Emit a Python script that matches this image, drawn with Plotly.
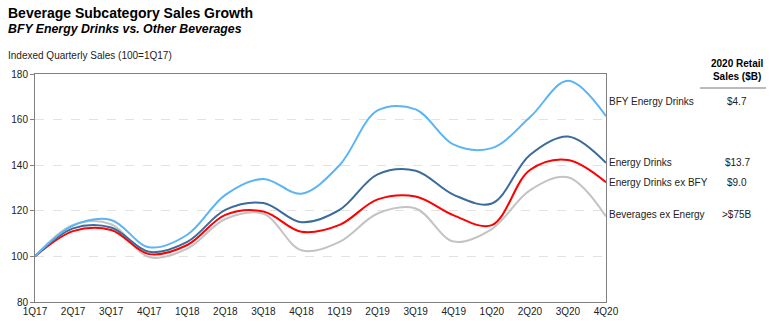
import plotly.graph_objects as go

quarters = ["1Q17", "2Q17", "3Q17", "4Q17", "1Q18", "2Q18", "3Q18", "4Q18",
            "1Q19", "2Q19", "3Q19", "4Q19", "1Q20", "2Q20", "3Q20", "4Q20"]

bfy_energy = [100, 113.5, 116, 104, 109.5, 127, 134, 127.5, 140, 164, 164.5, 149, 147.5, 161, 177, 161.5]
energy = [100, 112.3, 112.7, 102, 106.4, 120.4, 123.4, 115, 120.4, 136, 137.6, 127, 123.2, 144.5, 152.6, 141]
energy_ex_bfy = [100, 111.1, 111.6, 101, 105, 118.2, 119.7, 110.8, 113.8, 125, 126.3, 118, 113.7, 137.9, 142.3, 132.5]
bev_ex_energy = [100, 113.8, 114.1, 99.7, 103.4, 116.4, 118.7, 102.7, 106.4, 118.8, 121, 106.5, 112, 129, 134.7, 117.5]

series_names = ["BFY Energy Drinks", "Energy Drinks", "Energy Drinks ex BFY", "Beverages ex Energy"]
retail_sales = ["$4.7", "$13.7", "$9.0", ">$75B"]
colors = ["#5AB4F5", "#3A6B9B", "#FF0000", "#C3C3C3"]
label_y = [168, 141.4, 132.6, 118.5]

series = [bfy_energy, energy, energy_ex_bfy, bev_ex_energy]

W, H = 769, 328
L, R, T, B = 35, 163, 74, 26
pw, ph = W - L - R, H - T - B

def px(x):
    return (x - L) / pw

def py(y):
    return (H - B - y) / ph

fig = go.Figure()
for name, vals, col in reversed(list(zip(series_names, series, colors))):
    fig.add_trace(go.Scatter(x=quarters, y=vals, mode="lines", name=name,
                             line=dict(color=col, width=2, shape="spline", smoothing=1),
                             hoverinfo="skip"))

font = "Arial, Liberation Sans, sans-serif"
ann = []
ann.append(dict(text="<b>Beverage Subcategory Sales Growth</b>", x=px(6), y=py(13),
                xref="paper", yref="paper", xanchor="left", yanchor="middle",
                showarrow=False, font=dict(size=14, color="#000", family=font)))
ann.append(dict(text="<b><i>BFY Energy Drinks vs. Other Beverages</i></b>", x=px(6), y=py(29),
                xref="paper", yref="paper", xanchor="left", yanchor="middle",
                showarrow=False, font=dict(size=12.3, color="#000", family=font)))
ann.append(dict(text="Indexed Quarterly Sales (100=1Q17)", x=px(6), y=py(55),
                xref="paper", yref="paper", xanchor="left", yanchor="middle",
                showarrow=False, font=dict(size=10, color="#222", family=font)))
ann.append(dict(text="<b>2020 Retail<br>Sales ($B)</b>", x=px(737), y=py(70),
                xref="paper", yref="paper", xanchor="center", yanchor="middle",
                showarrow=False, font=dict(size=10, color="#000", family=font)))
for name, val, ly in zip(series_names, retail_sales, label_y):
    ann.append(dict(text=name, x=px(607), y=ly, xref="paper", yref="y",
                    xanchor="left", yanchor="middle", showarrow=False,
                    font=dict(size=10, color="#222", family=font)))
    ann.append(dict(text=val, x=px(737), y=ly, xref="paper", yref="y",
                    xanchor="center", yanchor="middle", showarrow=False,
                    font=dict(size=10, color="#222", family=font)))

fig.update_layout(
    width=W, height=H, margin=dict(l=L, r=R, t=T, b=B),
    paper_bgcolor="white", plot_bgcolor="white",
    showlegend=False, annotations=ann,
    font=dict(family=font, size=10, color="#222"),
    shapes=[dict(type="line", xref="paper", yref="paper", x0=px(700), x1=px(766),
                 y0=py(88), y1=py(88), line=dict(color="#777", width=1))],
    xaxis=dict(range=[0, 15], showgrid=False, showline=True, linecolor="#808080",
               linewidth=1, mirror=True, ticks="", tickfont=dict(size=10, color="#222"),
               fixedrange=True, zeroline=False),
    yaxis=dict(range=[80, 180], tickvals=[80, 100, 120, 140, 160, 180],
               showgrid=True, gridcolor="#E2E2E2", griddash="dash", gridwidth=1,
               showline=True, linecolor="#808080", linewidth=1, mirror=True,
               ticks="outside", ticklen=4, tickcolor="#808080",
               tickfont=dict(size=10, color="#222"), zeroline=False, fixedrange=True),
)

fig.write_html("out.html", config={"displayModeBar": False})
